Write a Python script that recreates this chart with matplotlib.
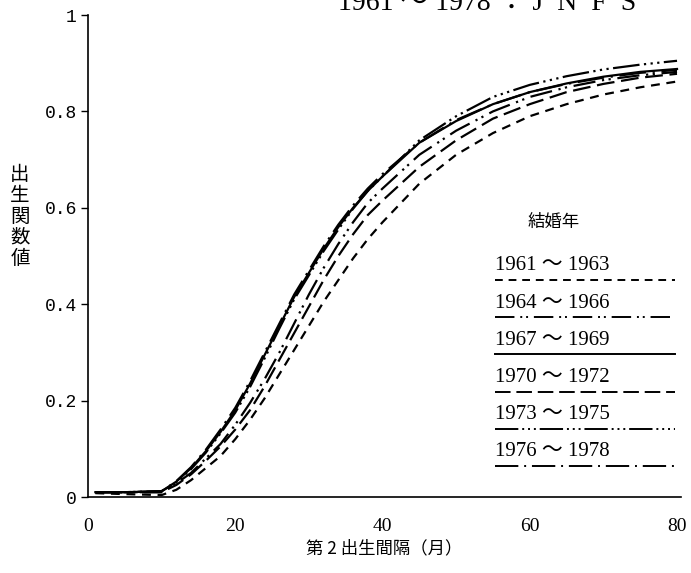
import matplotlib
matplotlib.use("Agg")
import matplotlib.pyplot as plt
from matplotlib.lines import Line2D

x = [1, 5, 10, 12, 14, 16, 18, 20, 22, 24, 26, 28, 30, 32, 34, 36, 38, 40, 45, 50, 55, 60, 65, 70, 75, 80]

s1961 = [0.008, 0.006, 0.004, 0.015, 0.035, 0.06, 0.085, 0.12, 0.16, 0.205, 0.255, 0.305, 0.355, 0.405, 0.45, 0.495, 0.535, 0.57, 0.65, 0.71, 0.755, 0.79, 0.815, 0.835, 0.85, 0.862]
s1964 = [0.010, 0.010, 0.010, 0.028, 0.05, 0.08, 0.11, 0.15, 0.195, 0.245, 0.30, 0.36, 0.42, 0.475, 0.525, 0.57, 0.61, 0.64, 0.71, 0.76, 0.80, 0.83, 0.85, 0.865, 0.875, 0.882]
s1967 = [0.010, 0.010, 0.012, 0.032, 0.06, 0.095, 0.135, 0.18, 0.235, 0.295, 0.355, 0.415, 0.465, 0.515, 0.56, 0.60, 0.635, 0.665, 0.735, 0.78, 0.815, 0.84, 0.858, 0.872, 0.882, 0.888]
s1970 = [0.010, 0.010, 0.010, 0.025, 0.047, 0.075, 0.105, 0.14, 0.18, 0.23, 0.285, 0.34, 0.395, 0.45, 0.50, 0.545, 0.585, 0.615, 0.685, 0.74, 0.785, 0.815, 0.84, 0.857, 0.87, 0.878]
s1973 = [0.010, 0.010, 0.012, 0.03, 0.058, 0.092, 0.132, 0.175, 0.228, 0.288, 0.35, 0.41, 0.46, 0.51, 0.555, 0.598, 0.635, 0.665, 0.74, 0.79, 0.83, 0.855, 0.873, 0.887, 0.897, 0.905]
s1976 = [0.010, 0.010, 0.012, 0.033, 0.062, 0.098, 0.14, 0.185, 0.24, 0.30, 0.36, 0.42, 0.47, 0.52, 0.565, 0.605, 0.64, 0.67, 0.735, 0.782, 0.815, 0.84, 0.857, 0.87, 0.88, 0.886]

labels = ["1961 ～ 1963", "1964 ～ 1966", "1967 ～ 1969", "1970 ～ 1972", "1973 ～ 1975", "1976 ～ 1978"]
series = [s1961, s1964, s1967, s1970, s1973, s1976]
styles = [(0, (4, 3)), (0, (10, 3, 1, 2, 1, 3)), "-", (0, (8, 3)), (0, (12, 2, 1, 2, 1, 2, 1, 2)), (0, (12, 3, 1, 3))]

xticks = [0, 20, 40, 60, 80]
yticks = [0, 0.2, 0.4, 0.6, 0.8, 1]
ytick_labels = ["0", "0.2", "0.4", "0.6", "0.8", "1"]

cjk = ["Noto Sans CJK JP", "DejaVu Sans"]
serif_cjk = ["Liberation Serif", "Noto Sans CJK JP"]

fig = plt.figure(figsize=(6.91, 5.73), dpi=100)
ax = fig.add_axes([88/691, 76/573, 592.7/691, 482/573])

for s, ls in zip(series, styles):
    ax.plot(x, s, color="black", lw=1.6, linestyle=ls)

ax.set_xlim(0, 80.5)
ax.set_ylim(0, 1)
ax.spines["top"].set_visible(False)
ax.spines["right"].set_visible(False)
ax.spines["left"].set_linewidth(1.2)
ax.spines["bottom"].set_linewidth(1.2)
ax.set_xticks(xticks)
ax.set_xticklabels([str(t) for t in xticks], family="Liberation Serif", fontsize=14)
ax.set_yticks(yticks)
ax.set_yticklabels(ytick_labels, family="Liberation Mono", fontsize=13)
ax.tick_params(axis="y", direction="out", length=5, width=1, pad=3)
ax.tick_params(axis="x", direction="out", length=0, pad=15)

ax.set_xlabel("第 2 出生間隔（月）", family=cjk, fontsize=12.5, labelpad=3)
fig.text(20/691, 1 - 216/573, "出\n生\n関\n数\n値", family=cjk, fontsize=14,
         ha="center", va="center", linespacing=1.0)

# legend
fig.text(528/691, 1 - 222/573, "結婚年", family=cjk, fontsize=12.5, ha="left", va="center")
for i, (lab, ls) in enumerate(zip(labels, styles)):
    yl = 280 + i * 37.2
    fig.text(495/691, 1 - (yl - 14)/573, lab, family=serif_cjk,
             fontsize=15, ha="left", va="center")
    fig.add_artist(Line2D([495/691, 675/691], [1 - yl/573, 1 - yl/573], color="black",
                          lw=1.4, linestyle=ls, transform=fig.transFigure))

fig.text(338/691, 1 - 3/573, "1961 ～ 1978 ： J  N  F  S", family=serif_cjk,
         fontsize=20, ha="left", va="center")

fig.savefig("out.png", dpi=100)
